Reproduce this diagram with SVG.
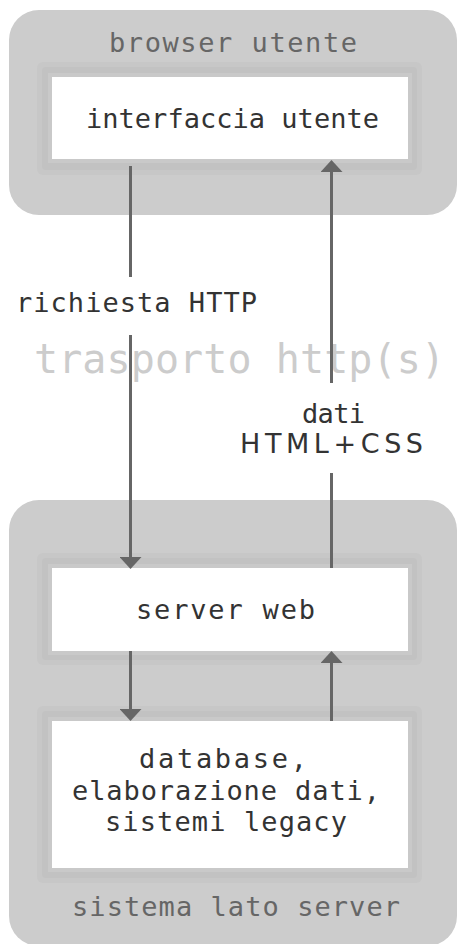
<svg xmlns="http://www.w3.org/2000/svg" width="459" height="944" viewBox="0 0 459 944">
  <style>
    .cont { fill: #cccccc; }
    .h1 { fill: #c7c7c7; }
    .h2 { fill: #c2c2c2; }
    .h3 { fill: #c9c9c9; }
    .box { fill: #ffffff; }
    text { font-family: "DejaVu Sans Mono", "Liberation Mono", monospace; font-size: 27px; fill: #333333; }
    .gray { fill: #666666; }
    .big { font-size: 40px; fill: #cccccc; }
    .wide { font-family: "DejaVu Sans", "Liberation Sans", sans-serif; }
    .ln { stroke: #666666; stroke-width: 3; fill: none; }
  </style>
  <defs>
    <marker id="arr" viewBox="0 -11 12 22" refX="0" refY="0" markerWidth="12" markerHeight="22" markerUnits="userSpaceOnUse" orient="auto">
      <path d="M0,-11 L12,0 L0,11 z" fill="#666666"/>
    </marker>
  </defs>

  <rect width="459" height="944" fill="#ffffff"/>

  <g id="browser">
    <rect class="cont" x="9" y="10" width="448" height="205" rx="30"/>
    <text class="gray" x="109" y="52" textLength="248" lengthAdjust="spacing">browser utente</text>
  </g>

  <g id="ui">
    <rect class="h1" x="37" y="62" width="385" height="113" rx="6"/>
    <rect class="h2" x="42" y="67" width="375" height="103" rx="4"/>
    <rect class="h3" x="48" y="73" width="364" height="90"/>
    <rect class="box" x="52" y="77" width="356" height="82"/>
    <text x="86" y="128" textLength="293" lengthAdjust="spacing">interfaccia utente</text>
  </g>

  <g id="transport">
    <text class="big" x="34" y="373" textLength="411" lengthAdjust="spacing">trasporto http(s)</text>
  </g>

  <g id="server-system">
    <rect class="cont" x="9" y="500" width="448" height="446" rx="30"/>
    <text class="gray" x="72" y="916" textLength="328" lengthAdjust="spacing">sistema lato server</text>
  </g>

  <g id="webserver">
    <rect class="h1" x="37" y="553" width="385" height="112" rx="6"/>
    <rect class="h2" x="42" y="558" width="375" height="102" rx="4"/>
    <rect class="h3" x="48" y="564" width="364" height="91"/>
    <rect class="box" x="52" y="568" width="356" height="83"/>
    <text x="136" y="619" textLength="179" lengthAdjust="spacing">server web</text>
  </g>

  <g id="database">
    <rect class="h1" x="37" y="706" width="385" height="177" rx="6"/>
    <rect class="h2" x="42" y="711" width="375" height="167" rx="4"/>
    <rect class="h3" x="48" y="717" width="364" height="155"/>
    <rect class="box" x="52" y="721" width="356" height="147"/>
    <text x="139" y="768" textLength="168" lengthAdjust="spacing">database,</text>
    <text x="72" y="800" textLength="308" lengthAdjust="spacing">elaborazione dati,</text>
    <text x="105" y="831" textLength="242" lengthAdjust="spacing">sistemi legacy</text>
  </g>

  <g id="connectors">
    <line class="ln" x1="130.5" y1="166" x2="130.5" y2="277"/>
    <line class="ln" x1="130.5" y1="335" x2="130.5" y2="557" marker-end="url(#arr)"/>
    <line class="ln" x1="130.5" y1="651" x2="130.5" y2="709" marker-end="url(#arr)"/>
    <line class="ln" x1="331.5" y1="383" x2="331.5" y2="172" marker-end="url(#arr)"/>
    <line class="ln" x1="331.5" y1="473" x2="331.5" y2="568"/>
    <line class="ln" x1="331.5" y1="721" x2="331.5" y2="663" marker-end="url(#arr)"/>
    <text x="16" y="312" textLength="241" lengthAdjust="spacing">richiesta HTTP</text>
    <text x="302" y="423" textLength="63" lengthAdjust="spacing">dati</text>
    <text class="wide" x="240" y="453" textLength="183" lengthAdjust="spacing">HTML+CSS</text>
  </g>
</svg>
